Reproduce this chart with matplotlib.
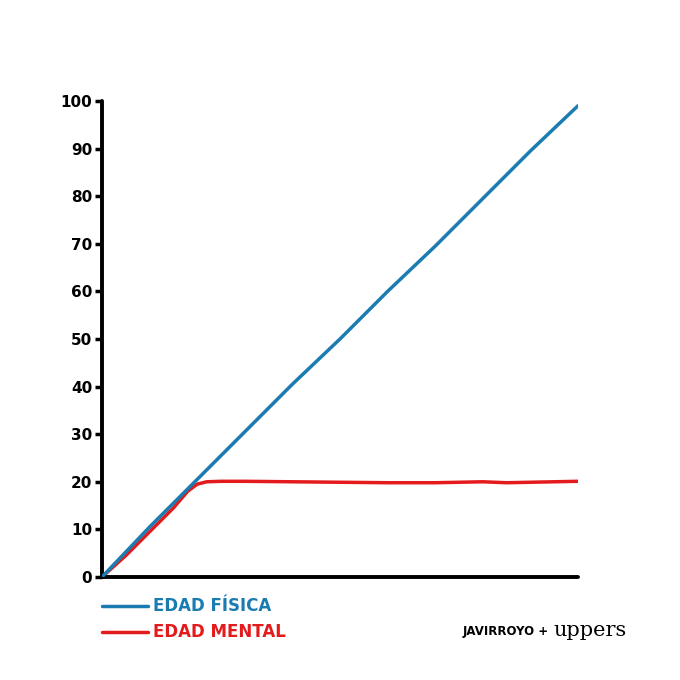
import matplotlib
matplotlib.use("Agg")
import matplotlib.pyplot as plt

# Data
edad_fisica_x = [0, 10, 20, 30, 40, 50, 60, 70, 80, 90, 100]
edad_fisica_y = [0, 10.5, 20.5, 30.5, 40.5, 50, 60, 69.5, 79.5, 89.5, 99]

edad_mental_x = [0, 5, 10, 15, 18, 20, 22, 25, 30, 40, 50, 60, 70, 80, 85, 90, 100]
edad_mental_y = [0, 4.5, 9.5, 14.5, 18, 19.5, 20, 20.1, 20.1, 20.0, 19.9, 19.8, 19.8, 20.0, 19.8, 19.9, 20.1]

yticks = [0, 10, 20, 30, 40, 50, 60, 70, 80, 90, 100]
legend_labels = ["EDAD FÍSICA", "EDAD MENTAL"]
credit_a = "JAVIRROYO +"
credit_b = "uppers"

BLUE = "#1b7cb2"
RED = "#e31b1d"

fig = plt.figure(figsize=(6.8, 6.8), dpi=100)
ax = fig.add_axes([0.150, 0.1515, 0.700, 0.700])

ax.plot(edad_fisica_x, edad_fisica_y, color=BLUE, lw=2.5, solid_capstyle="round", zorder=3)
ax.plot(edad_mental_x, edad_mental_y, color=RED, lw=2.5, solid_capstyle="round", zorder=2)

ax.set_xlim(0, 100)
ax.set_ylim(0, 100)
for s in ["top", "right"]:
    ax.spines[s].set_visible(False)
for s in ["left", "bottom"]:
    ax.spines[s].set_linewidth(2.8)
    ax.spines[s].set_color("black")
    ax.spines[s].set_capstyle("round")
ax.set_xticks([])
ax.set_yticks(yticks)
ax.set_yticklabels([str(t) for t in yticks], fontsize=11, fontweight="bold")
ax.tick_params(axis="y", length=5, width=2.5, pad=2, colors="black")

# Legend (hand-drawn style)
fig.add_artist(plt.Line2D([102/680, 148/680], [1-606/680, 1-606/680], color=BLUE, lw=2.5, solid_capstyle="round"))
fig.add_artist(plt.Line2D([102/680, 148/680], [1-632/680, 1-632/680], color=RED, lw=2.5, solid_capstyle="round"))
fig.text(153/680, 1-606/680, legend_labels[0], color=BLUE, fontsize=12, fontweight="bold", va="center", ha="left")
fig.text(153/680, 1-632/680, legend_labels[1], color=RED, fontsize=12, fontweight="bold", va="center", ha="left")

# Credit
fig.text(463/680, 1-632/680, credit_a, color="black", fontsize=8.5, fontweight="bold", va="center", ha="left")
fig.text(553/680, 1-631/680, credit_b, color="black", fontsize=15, family="DejaVu Serif", va="center", ha="left")

fig.savefig("out.png", dpi=100, facecolor="white")
